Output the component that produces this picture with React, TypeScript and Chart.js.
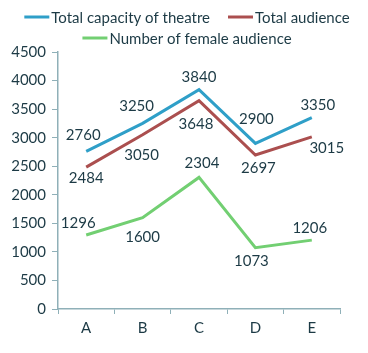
import React, { useEffect, useRef } from "react";
import { Chart, registerables } from "chart.js";

Chart.register(...registerables);

const categories = ["A", "B", "C", "D", "E"];
const totalCapacity = [2760, 3250, 3840, 2900, 3350];
const totalAudience = [2484, 3050, 3648, 2697, 3015];
const femaleAudience = [1296, 1600, 2304, 1073, 1206];
const seriesNames = ["Total capacity of theatre", "Total audience", "Number of female audience"];
const seriesColors = ["#2f9fc8", "#ab4f4f", "#72cf72"];

const FONT = "Lato, 'Open Sans', sans-serif";
const TEXT = "#1c3a45";
const AXIS = "#8fb0b8";

// label offsets (dx, dy) relative to each point, per series
const labelOffsets = [
  [[-3, -16], [-6, -17], [0, -13], [1, -24], [6, -13]],
  [[0, 11], [-1, 20], [-3, 23], [3, 13], [15, 11]],
  [[-8, -12], [0, 20], [3, -14], [-4, 13], [-2, -12]],
];

// legend rows (indices of series)
const legendRows = [[0, 1], [2]];

const labelPlugin = {
  id: "pointLabels",
  afterDatasetsDraw(chart: any) {
    const ctx = chart.ctx;
    ctx.save();
    ctx.font = `15px ${FONT}`;
    ctx.fillStyle = TEXT;
    ctx.textAlign = "center";
    ctx.textBaseline = "middle";
    chart.data.datasets.forEach((ds: any, di: number) => {
      const meta = chart.getDatasetMeta(di);
      meta.data.forEach((pt: any, i: number) => {
        const [dx, dy] = labelOffsets[di][i];
        ctx.fillText(String(ds.data[i]), pt.x + dx, pt.y + dy);
      });
    });
    ctx.restore();
  },
};

const legendPlugin = {
  id: "customLegend",
  afterDraw(chart: any) {
    const ctx = chart.ctx;
    ctx.save();
    ctx.font = `15px ${FONT}`;
    ctx.textBaseline = "middle";
    ctx.textAlign = "left";
    const lineLen = 25;
    const gap = 2;
    const itemGap = 18;
    legendRows.forEach((row, ri) => {
      const y = 17 + ri * 21;
      const widths = row.map((i) => lineLen + gap + ctx.measureText(seriesNames[i]).width);
      const total = widths.reduce((a, b) => a + b, 0) + itemGap * (row.length - 1);
      let x = chart.width / 2 + 3 - total / 2;
      row.forEach((i, k) => {
        ctx.strokeStyle = seriesColors[i];
        ctx.lineWidth = 3;
        ctx.beginPath();
        ctx.moveTo(x, y);
        ctx.lineTo(x + lineLen, y);
        ctx.stroke();
        ctx.fillStyle = TEXT;
        ctx.fillText(seriesNames[i], x + lineLen + gap, y + 1);
        x += widths[k] + itemGap;
      });
    });
    ctx.restore();
  },
};

export default function App() {
  const ref = useRef<HTMLCanvasElement>(null);
  useEffect(() => {
    const chart = new Chart(ref.current!, {
      type: "line",
      data: {
        labels: categories,
        datasets: [totalCapacity, totalAudience, femaleAudience].map((d, i) => ({
          label: seriesNames[i],
          data: d,
          borderColor: seriesColors[i],
          backgroundColor: seriesColors[i],
          borderWidth: 3,
          pointRadius: 0,
          tension: 0,
        })),
      },
      options: {
        animation: false,
        responsive: false,
        layout: { padding: { top: 52, right: 28, bottom: 14, left: 0 } },
        plugins: {
          tooltip: { enabled: false },
          legend: { display: false },
        },
        scales: {
          x: {
            offset: true,
            grid: { offset: true, drawOnChartArea: false, color: AXIS, tickLength: 5 },
            border: { color: AXIS, width: 1.5 },
            ticks: { color: TEXT, font: { family: FONT, size: 15 }, padding: 5 },
            afterFit: (s: any) => { s.height = 30; },
          },
          y: {
            min: 0,
            max: 4500,
            grid: { drawOnChartArea: false, color: AXIS, tickLength: 6 },
            border: { color: AXIS, width: 1.5 },
            ticks: {
              stepSize: 500,
              color: TEXT,
              font: { family: FONT, size: 15 },
              padding: 6,
              callback: (v: any) => String(v),
            },
            afterFit: (s: any) => { s.width = 58; },
          },
        },
      },
      plugins: [labelPlugin, legendPlugin],
    });
    return () => chart.destroy();
  }, []);
  return (
    <div style={{ position: "absolute", left: 0, top: 0, width: 368, height: 353, background: "#fff" }}>
      <canvas ref={ref} width={368} height={353} />
    </div>
  );
}
